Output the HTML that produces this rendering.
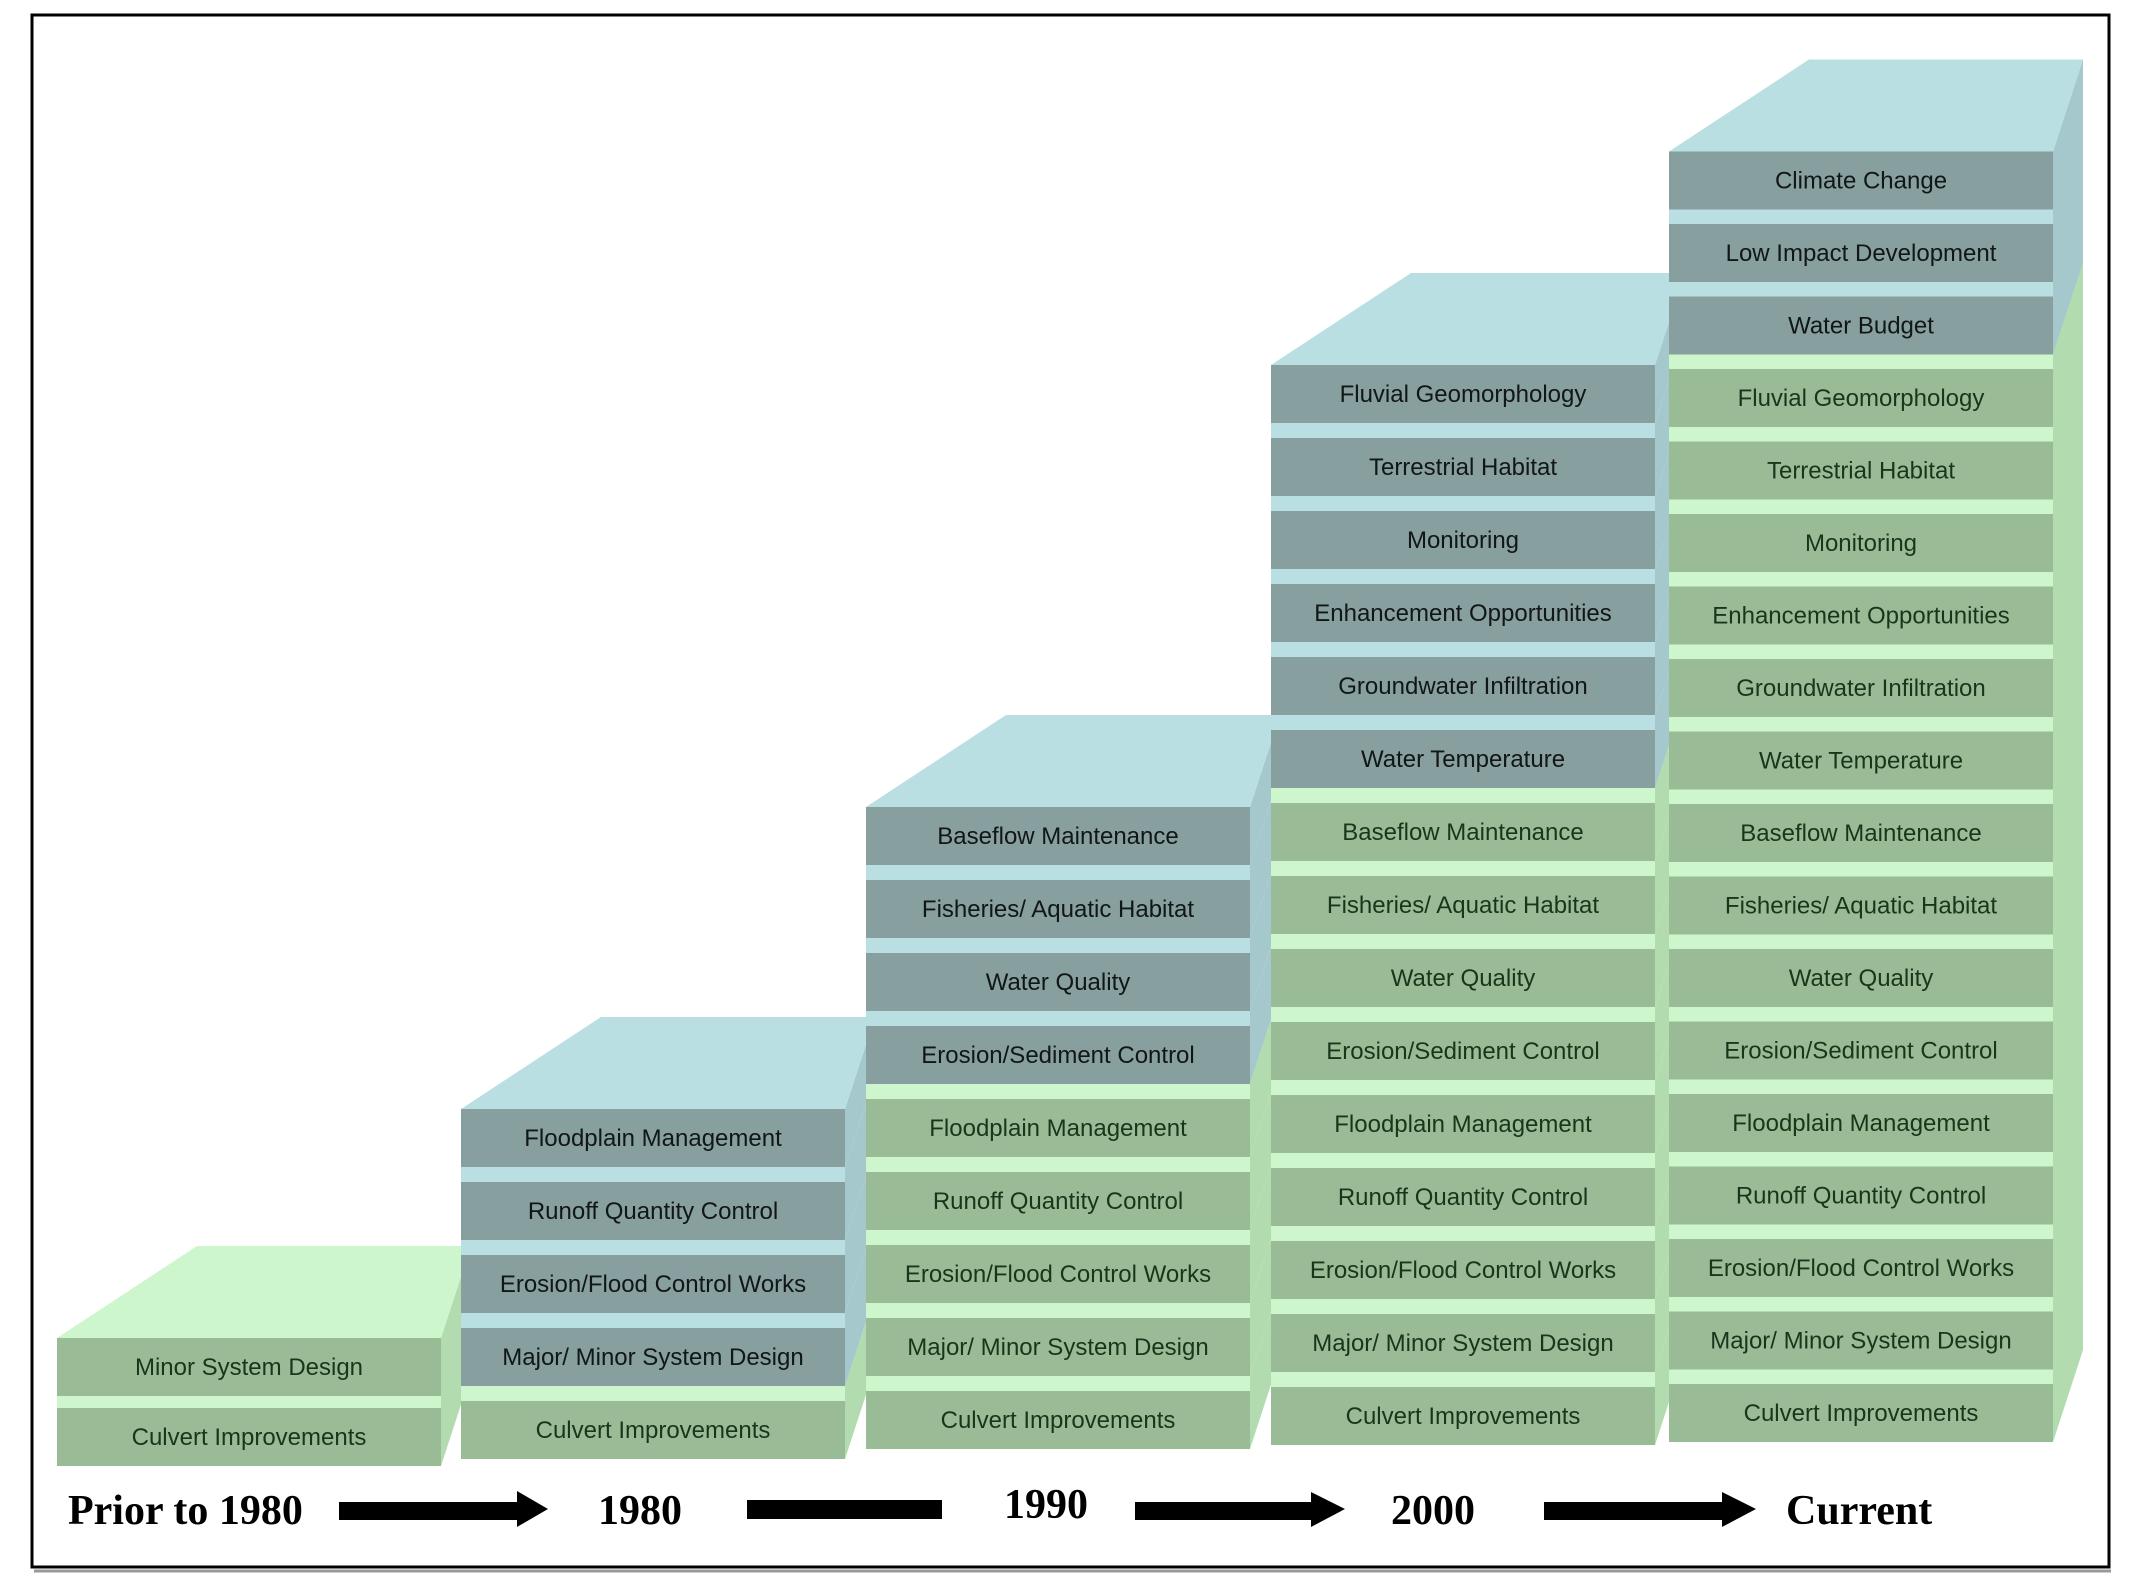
<!DOCTYPE html>
<html><head><meta charset="utf-8"><style>
html,body{margin:0;padding:0;background:#fff;}
svg{display:block;}
text.l{font-family:"Liberation Sans",Arial,sans-serif;font-size:24px;text-anchor:middle;}
.g{--fr:#99bc96;--st:#cdf6cc;--sd:#b2dcaf;}
.b{--fr:#889f9f;--st:#b9dfe2;--sd:#a4c8cc;}
.g text{fill:#1a361a;}
.b text{fill:#111616;}
text.y{font-family:"Liberation Serif","Times New Roman",serif;font-weight:bold;font-size:42px;fill:#000;}
</style></head><body>
<svg width="2145" height="1596" viewBox="0 0 2145 1596" xmlns="http://www.w3.org/2000/svg">
<defs>
<g id="lay">
<polygon style="fill:var(--sd)" points="384,-44 414,-136 414,-63 384,29"/>
<rect style="fill:var(--st)" x="0" y="-44" width="384" height="15"/>
<rect style="fill:var(--fr)" x="0" y="-29" width="384" height="58"/>
</g>
<g id="top">
<polygon style="fill:var(--sd)" points="384,-29 414,-121 414,-63 384,29"/>
<polygon style="fill:var(--st)" points="0,-29 140,-121 414,-121 384,-29"/>
<rect style="fill:var(--fr)" x="0" y="-29" width="384" height="58"/>
</g>
</defs>
<rect x="0" y="0" width="2145" height="1596" fill="#fff"/>
<line x1="34" y1="1571" x2="2111" y2="1571" stroke="#999" stroke-width="3"/>
<rect x="32" y="15" width="2077" height="1552" fill="none" stroke="#000" stroke-width="3"/>

<g class="g" transform="translate(57,1437)"><use href="#lay"/><text class="l" x="192" y="8">Culvert Improvements</text></g>
<g class="g" transform="translate(57,1367)"><use href="#top"/><text class="l" x="192" y="8">Minor System Design</text></g>

<g class="g" transform="translate(461,1430)"><use href="#lay"/><text class="l" x="192" y="8">Culvert Improvements</text></g>
<g class="b" transform="translate(461,1357)"><use href="#lay"/><text class="l" x="192" y="8">Major/ Minor System Design</text></g>
<g class="b" transform="translate(461,1284)"><use href="#lay"/><text class="l" x="192" y="8">Erosion/Flood Control Works</text></g>
<g class="b" transform="translate(461,1211)"><use href="#lay"/><text class="l" x="192" y="8">Runoff Quantity Control</text></g>
<g class="b" transform="translate(461,1138)"><use href="#top"/><text class="l" x="192" y="8">Floodplain Management</text></g>

<g class="g" transform="translate(866,1420)"><use href="#lay"/><text class="l" x="192" y="8">Culvert Improvements</text></g>
<g class="g" transform="translate(866,1347)"><use href="#lay"/><text class="l" x="192" y="8">Major/ Minor System Design</text></g>
<g class="g" transform="translate(866,1274)"><use href="#lay"/><text class="l" x="192" y="8">Erosion/Flood Control Works</text></g>
<g class="g" transform="translate(866,1201)"><use href="#lay"/><text class="l" x="192" y="8">Runoff Quantity Control</text></g>
<g class="g" transform="translate(866,1128)"><use href="#lay"/><text class="l" x="192" y="8">Floodplain Management</text></g>
<g class="b" transform="translate(866,1055)"><use href="#lay"/><text class="l" x="192" y="8">Erosion/Sediment Control</text></g>
<g class="b" transform="translate(866,982)"><use href="#lay"/><text class="l" x="192" y="8">Water Quality</text></g>
<g class="b" transform="translate(866,909)"><use href="#lay"/><text class="l" x="192" y="8">Fisheries/ Aquatic Habitat</text></g>
<g class="b" transform="translate(866,836)"><use href="#top"/><text class="l" x="192" y="8">Baseflow Maintenance</text></g>

<g class="g" transform="translate(1271,1416)"><use href="#lay"/><text class="l" x="192" y="8">Culvert Improvements</text></g>
<g class="g" transform="translate(1271,1343)"><use href="#lay"/><text class="l" x="192" y="8">Major/ Minor System Design</text></g>
<g class="g" transform="translate(1271,1270)"><use href="#lay"/><text class="l" x="192" y="8">Erosion/Flood Control Works</text></g>
<g class="g" transform="translate(1271,1197)"><use href="#lay"/><text class="l" x="192" y="8">Runoff Quantity Control</text></g>
<g class="g" transform="translate(1271,1124)"><use href="#lay"/><text class="l" x="192" y="8">Floodplain Management</text></g>
<g class="g" transform="translate(1271,1051)"><use href="#lay"/><text class="l" x="192" y="8">Erosion/Sediment Control</text></g>
<g class="g" transform="translate(1271,978)"><use href="#lay"/><text class="l" x="192" y="8">Water Quality</text></g>
<g class="g" transform="translate(1271,905)"><use href="#lay"/><text class="l" x="192" y="8">Fisheries/ Aquatic Habitat</text></g>
<g class="g" transform="translate(1271,832)"><use href="#lay"/><text class="l" x="192" y="8">Baseflow Maintenance</text></g>
<g class="b" transform="translate(1271,759)"><use href="#lay"/><text class="l" x="192" y="8">Water Temperature</text></g>
<g class="b" transform="translate(1271,686)"><use href="#lay"/><text class="l" x="192" y="8">Groundwater Infiltration</text></g>
<g class="b" transform="translate(1271,613)"><use href="#lay"/><text class="l" x="192" y="8">Enhancement Opportunities</text></g>
<g class="b" transform="translate(1271,540)"><use href="#lay"/><text class="l" x="192" y="8">Monitoring</text></g>
<g class="b" transform="translate(1271,467)"><use href="#lay"/><text class="l" x="192" y="8">Terrestrial Habitat</text></g>
<g class="b" transform="translate(1271,394)"><use href="#top"/><text class="l" x="192" y="8">Fluvial Geomorphology</text></g>

<g class="g" transform="translate(1669,1413)"><use href="#lay"/><text class="l" x="192" y="8">Culvert Improvements</text></g>
<g class="g" transform="translate(1669,1340.5)"><use href="#lay"/><text class="l" x="192" y="8">Major/ Minor System Design</text></g>
<g class="g" transform="translate(1669,1268)"><use href="#lay"/><text class="l" x="192" y="8">Erosion/Flood Control Works</text></g>
<g class="g" transform="translate(1669,1195.5)"><use href="#lay"/><text class="l" x="192" y="8">Runoff Quantity Control</text></g>
<g class="g" transform="translate(1669,1123)"><use href="#lay"/><text class="l" x="192" y="8">Floodplain Management</text></g>
<g class="g" transform="translate(1669,1050.5)"><use href="#lay"/><text class="l" x="192" y="8">Erosion/Sediment Control</text></g>
<g class="g" transform="translate(1669,978)"><use href="#lay"/><text class="l" x="192" y="8">Water Quality</text></g>
<g class="g" transform="translate(1669,905.5)"><use href="#lay"/><text class="l" x="192" y="8">Fisheries/ Aquatic Habitat</text></g>
<g class="g" transform="translate(1669,833)"><use href="#lay"/><text class="l" x="192" y="8">Baseflow Maintenance</text></g>
<g class="g" transform="translate(1669,760.5)"><use href="#lay"/><text class="l" x="192" y="8">Water Temperature</text></g>
<g class="g" transform="translate(1669,688)"><use href="#lay"/><text class="l" x="192" y="8">Groundwater Infiltration</text></g>
<g class="g" transform="translate(1669,615.5)"><use href="#lay"/><text class="l" x="192" y="8">Enhancement Opportunities</text></g>
<g class="g" transform="translate(1669,543)"><use href="#lay"/><text class="l" x="192" y="8">Monitoring</text></g>
<g class="g" transform="translate(1669,470.5)"><use href="#lay"/><text class="l" x="192" y="8">Terrestrial Habitat</text></g>
<g class="g" transform="translate(1669,398)"><use href="#lay"/><text class="l" x="192" y="8">Fluvial Geomorphology</text></g>
<g class="b" transform="translate(1669,325.5)"><use href="#lay"/><text class="l" x="192" y="8">Water Budget</text></g>
<g class="b" transform="translate(1669,253)"><use href="#lay"/><text class="l" x="192" y="8">Low Impact Development</text></g>
<g class="b" transform="translate(1669,180.5)"><use href="#top"/><text class="l" x="192" y="8">Climate Change</text></g>

<text class="y" x="68" y="1524">Prior to 1980</text>
<polygon fill="#000" points="339,1502 517,1502 517,1491 548,1509 517,1527 517,1520 339,1520"/>
<text class="y" x="598" y="1524">1980</text>
<rect fill="#000" x="747" y="1500" width="195" height="19"/>
<text class="y" x="1004" y="1518">1990</text>
<polygon fill="#000" points="1135,1502 1311,1502 1311,1492 1345,1509 1311,1527 1311,1520 1135,1520"/>
<text class="y" x="1391" y="1524">2000</text>
<polygon fill="#000" points="1544,1502 1722,1502 1722,1492 1756,1509 1722,1527 1722,1520 1544,1520"/>
<text class="y" x="1786" y="1524">Current</text>
</svg>
</body></html>
